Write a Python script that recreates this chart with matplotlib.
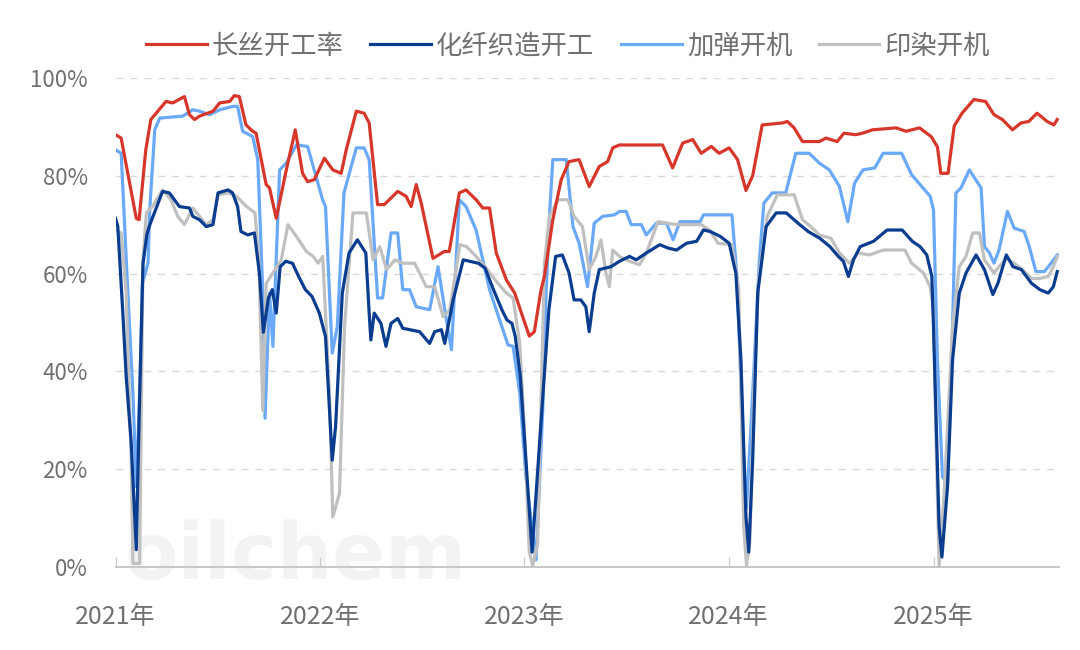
import matplotlib
matplotlib.use("Agg")
import matplotlib.pyplot as plt
import pandas as pd

plt.rcParams['font.family'] = ['Noto Sans CJK SC', 'DejaVu Sans']

# 长丝开工率
red_dates = ["2021-01-01", "2021-01-11", "2021-02-07", "2021-02-12", "2021-02-24", "2021-03-05",
             "2021-04-01", "2021-04-13", "2021-05-04", "2021-05-13", "2021-05-22", "2021-05-31",
             "2021-06-24", "2021-07-06", "2021-07-24", "2021-08-01", "2021-08-10", "2021-08-22",
             "2021-09-03", "2021-09-09", "2021-09-27", "2021-10-03", "2021-10-15", "2021-11-02",
             "2021-11-18", "2021-12-01", "2021-12-10", "2021-12-22", "2022-01-09", "2022-01-24",
             "2022-02-08", "2022-02-17", "2022-03-07", "2022-03-21", "2022-03-30", "2022-04-14",
             "2022-04-26", "2022-05-20", "2022-06-04", "2022-06-13", "2022-06-22", "2022-07-01",
             "2022-07-22", "2022-08-11", "2022-08-20", "2022-09-07", "2022-09-19", "2022-10-07",
             "2022-10-19", "2022-10-31", "2022-11-12", "2022-11-30", "2022-12-15", "2022-12-27",
             "2023-01-10", "2023-01-19", "2023-01-31", "2023-02-06", "2023-02-21", "2023-03-08",
             "2023-03-22", "2023-04-09", "2023-04-27", "2023-05-15", "2023-05-30", "2023-06-08",
             "2023-06-20", "2023-09-05", "2023-09-23", "2023-10-11", "2023-10-29", "2023-11-13",
             "2023-12-01", "2023-12-15", "2024-01-02", "2024-01-17", "2024-02-01", "2024-02-13",
             "2024-03-01", "2024-04-06", "2024-04-15", "2024-04-27", "2024-05-12", "2024-06-11",
             "2024-06-23", "2024-07-13", "2024-07-25", "2024-08-15", "2024-08-27", "2024-09-14",
             "2024-10-26", "2024-11-13", "2024-12-07", "2024-12-28", "2025-01-08", "2025-01-14",
             "2025-01-27", "2025-02-07", "2025-02-21", "2025-03-14", "2025-04-04", "2025-04-19",
             "2025-05-04", "2025-05-22", "2025-06-06", "2025-06-20", "2025-07-05", "2025-07-23",
             "2025-08-04", "2025-08-10"]
red_vals = [88.4, 87.7, 71.3, 71.0, 85.3, 91.5,
            95.2, 94.9, 96.2, 92.5, 91.5, 92.2,
            93.2, 94.9, 95.2, 96.4, 96.2, 90.4,
            89.1, 88.7, 78.2, 77.5, 71.3, 81.2,
            89.4, 80.5, 78.8, 79.2, 83.6, 81.2,
            80.5, 85.3, 93.2, 92.8, 90.8, 74.1,
            74.1, 76.8, 75.8, 73.7, 78.2, 74.4,
            63.1, 64.5, 64.5, 76.5, 77.1, 75.1,
            73.4, 73.4, 64.2, 58.7, 56.0, 51.9,
            47.2, 48.1, 56.7, 59.4, 71.0, 79.2,
            82.9, 83.3, 77.8, 81.9, 82.9, 85.7,
            86.3, 86.3, 81.6, 86.7, 87.4, 84.6,
            86.0, 84.6, 85.7, 83.3, 77.0, 80.0,
            90.4, 90.8, 91.1, 89.8, 87.0, 87.0,
            87.7, 87.0, 88.7, 88.4, 88.7, 89.4,
            89.8, 89.1, 89.8, 88.0, 85.9, 80.5,
            80.5, 90.2, 92.8, 95.6, 95.2, 92.5,
            91.5, 89.4, 90.8, 91.1, 92.8, 91.1,
            90.4, 91.5]

# 化纤织造开工
navy_dates = ["2021-01-01", "2021-01-05", "2021-01-14", "2021-01-20", "2021-01-29", "2021-02-07",
              "2021-02-12", "2021-02-19", "2021-02-26", "2021-03-02", "2021-03-26", "2021-04-07",
              "2021-04-25", "2021-05-13", "2021-05-19", "2021-05-31", "2021-06-12", "2021-06-24",
              "2021-07-03", "2021-07-21", "2021-07-29", "2021-08-07", "2021-08-13", "2021-08-25",
              "2021-09-06", "2021-09-15", "2021-09-22", "2021-10-01", "2021-10-08", "2021-10-15",
              "2021-10-22", "2021-11-01", "2021-11-13", "2021-11-24", "2021-12-06", "2021-12-18",
              "2021-12-31", "2022-01-11", "2022-01-23", "2022-01-29", "2022-02-10", "2022-02-22",
              "2022-03-09", "2022-03-24", "2022-03-30", "2022-04-02", "2022-04-08", "2022-04-20",
              "2022-04-29", "2022-05-08", "2022-05-20", "2022-05-29", "2022-06-28", "2022-07-16",
              "2022-07-25", "2022-08-06", "2022-08-12", "2022-08-27", "2022-09-14", "2022-10-11",
              "2022-10-23", "2022-11-07", "2022-11-22", "2022-12-01", "2022-12-10", "2022-12-16",
              "2022-12-25", "2023-01-15", "2023-02-02", "2023-02-14", "2023-02-26", "2023-03-10",
              "2023-03-22", "2023-03-31", "2023-04-12", "2023-04-21", "2023-04-27", "2023-05-06",
              "2023-05-15", "2023-06-05", "2023-06-20", "2023-07-08", "2023-07-20", "2023-08-07",
              "2023-08-31", "2023-09-15", "2023-09-30", "2023-10-18", "2023-11-05", "2023-11-17",
              "2023-11-29", "2023-12-17", "2024-01-02", "2024-01-14", "2024-01-23", "2024-02-01",
              "2024-02-06", "2024-02-13", "2024-02-22", "2024-03-08", "2024-03-26", "2024-04-13",
              "2024-05-04", "2024-05-22", "2024-06-12", "2024-06-30", "2024-07-15", "2024-07-24",
              "2024-08-02", "2024-08-11", "2024-08-23", "2024-09-16", "2024-10-10", "2024-11-06",
              "2024-11-24", "2024-12-08", "2024-12-20", "2024-12-29", "2025-01-01", "2025-01-11",
              "2025-01-16", "2025-01-26", "2025-02-04", "2025-02-16", "2025-02-28", "2025-03-18",
              "2025-04-02", "2025-04-17", "2025-04-26", "2025-05-11", "2025-05-23", "2025-06-07",
              "2025-06-25", "2025-07-10", "2025-07-25", "2025-08-03", "2025-08-10"]
navy_vals = [71.3, 69.6, 51.9, 38.9, 25.3, 3.5,
             30.0, 62.0, 68.0, 69.6, 76.8, 76.5,
             73.7, 73.4, 71.7, 71.0, 69.6, 70.0,
             76.5, 77.1, 76.5, 73.7, 68.6, 67.9,
             68.3, 60.0, 48.0, 55.0, 56.7, 51.9,
             61.4, 62.5, 62.1, 59.4, 56.7, 55.3,
             51.9, 47.1, 21.8, 28.7, 56.0, 64.2,
             66.9, 64.2, 51.9, 46.4, 51.9, 49.8,
             45.1, 49.8, 50.8, 48.8, 48.1, 45.7,
             48.1, 48.5, 45.7, 54.6, 62.8, 62.1,
             61.1, 56.7, 52.6, 50.5, 49.8, 47.1,
             38.9, 3.0, 33.0, 52.6, 63.5, 63.8,
             60.1, 54.6, 54.6, 53.2, 48.1, 56.0,
             60.8, 61.4, 62.5, 63.5, 62.8, 64.2,
             65.9, 65.2, 64.8, 66.2, 66.6, 68.9,
             68.6, 67.6, 66.2, 60.0, 42.3, 10.2,
             3.0, 21.8, 56.0, 69.6, 72.4, 72.4,
             70.3, 68.6, 67.2, 65.5, 63.5, 62.5,
             59.4, 62.8, 65.5, 66.6, 68.9, 68.9,
             66.6, 65.5, 63.8, 59.4, 49.0, 8.2,
             2.0, 16.4, 42.3, 56.0, 60.1, 63.8,
             60.8, 55.7, 58.0, 63.8, 61.4, 60.8,
             58.0, 56.7, 56.0, 57.3, 60.4]

# 加弹开机
sky_dates = ["2021-01-01", "2021-01-11", "2021-01-23", "2021-02-01", "2021-02-07", "2021-02-13",
             "2021-02-18", "2021-02-28", "2021-03-03", "2021-03-12", "2021-03-21", "2021-05-01",
             "2021-05-19", "2021-05-31", "2021-06-18", "2021-07-06", "2021-07-30", "2021-08-07",
             "2021-08-16", "2021-09-03", "2021-09-12", "2021-09-21", "2021-09-25", "2021-10-03",
             "2021-10-09", "2021-10-21", "2021-11-02", "2021-11-20", "2021-12-10", "2021-12-25",
             "2022-01-06", "2022-01-11", "2022-01-23", "2022-02-01", "2022-02-13", "2022-03-07",
             "2022-03-21", "2022-03-30", "2022-04-14", "2022-04-23", "2022-05-08", "2022-05-20",
             "2022-05-29", "2022-06-10", "2022-06-22", "2022-07-16", "2022-07-31", "2022-08-15",
             "2022-08-24", "2022-09-07", "2022-09-19", "2022-10-07", "2022-10-31", "2022-11-18",
             "2022-12-03", "2022-12-12", "2022-12-24", "2023-01-04", "2023-01-22", "2023-02-03",
             "2023-02-09", "2023-02-15", "2023-02-21", "2023-03-17", "2023-03-29", "2023-04-09",
             "2023-04-24", "2023-05-06", "2023-05-21", "2023-06-11", "2023-06-20", "2023-07-02",
             "2023-07-11", "2023-07-29", "2023-08-07", "2023-08-25", "2023-09-12", "2023-09-24",
             "2023-10-06", "2023-11-11", "2023-11-17", "2024-01-07", "2024-01-16", "2024-01-28",
             "2024-02-02", "2024-02-13", "2024-02-25", "2024-03-04", "2024-03-19", "2024-04-12",
             "2024-04-30", "2024-05-24", "2024-06-11", "2024-06-29", "2024-07-17", "2024-08-01",
             "2024-08-13", "2024-08-28", "2024-09-18", "2024-10-03", "2024-11-05", "2024-11-23",
             "2024-12-08", "2024-12-26", "2025-01-01", "2025-01-08", "2025-01-17", "2025-01-26",
             "2025-02-04", "2025-02-10", "2025-02-19", "2025-03-06", "2025-03-27", "2025-04-02",
             "2025-04-11", "2025-04-19", "2025-04-28", "2025-05-13", "2025-05-25", "2025-06-12",
             "2025-06-21", "2025-07-03", "2025-07-18", "2025-07-30", "2025-08-10"]
sky_vals = [85.3, 84.6, 56.0, 35.5, 16.4, 35.0,
            58.0, 62.1, 73.0, 89.4, 91.8, 92.2,
            93.5, 93.2, 92.5, 93.5, 94.2, 94.2,
            89.1, 88.0, 83.3, 56.0, 30.4, 56.0,
            45.1, 81.2, 82.6, 86.3, 86.0, 79.9,
            75.0, 73.7, 43.7, 49.1, 76.5, 85.7,
            85.7, 83.3, 55.0, 55.0, 68.3, 68.3,
            56.7, 56.7, 53.2, 52.6, 61.4, 50.5,
            44.4, 75.1, 73.7, 68.9, 56.7, 50.5,
            45.4, 45.1, 35.5, 18.4, 1.4, 32.0,
            56.0, 71.7, 83.3, 83.3, 69.6, 66.2,
            57.3, 70.3, 71.7, 72.0, 72.7, 72.7,
            70.0, 70.0, 67.9, 70.3, 70.3, 66.9,
            70.6, 70.6, 72.0, 72.0, 59.4, 21.8,
            12.0, 35.5, 62.8, 74.4, 76.5, 76.5,
            84.6, 84.6, 82.6, 81.2, 77.8, 70.6,
            78.5, 81.2, 81.6, 84.6, 84.6, 80.2,
            78.2, 75.8, 73.0, 42.3, 18.4, 17.0,
            49.1, 76.5, 77.5, 81.2, 77.5, 65.5,
            64.2, 62.1, 64.8, 72.7, 69.3, 68.6,
            65.5, 60.4, 60.4, 62.1, 63.8]

# 印染开机
grey_dates = ["2021-01-01", "2021-01-11", "2021-01-20", "2021-01-29", "2021-02-01", "2021-02-13",
              "2021-02-19", "2021-02-25", "2021-03-08", "2021-03-26", "2021-04-10", "2021-04-22",
              "2021-05-04", "2021-05-19", "2021-05-31", "2021-06-12", "2021-06-24", "2021-07-03",
              "2021-07-21", "2021-08-05", "2021-08-23", "2021-09-07", "2021-09-14", "2021-09-21",
              "2021-09-27", "2021-10-09", "2021-10-24", "2021-11-05", "2021-11-20", "2021-12-08",
              "2021-12-20", "2021-12-29", "2022-01-06", "2022-01-18", "2022-01-24", "2022-02-05",
              "2022-02-14", "2022-03-01", "2022-03-25", "2022-04-06", "2022-04-18", "2022-04-30",
              "2022-05-15", "2022-05-29", "2022-06-19", "2022-06-28", "2022-07-10", "2022-07-25",
              "2022-08-09", "2022-08-21", "2022-09-08", "2022-09-20", "2022-10-07", "2022-10-25",
              "2022-11-12", "2022-11-30", "2022-12-12", "2022-12-24", "2023-01-01", "2023-01-10",
              "2023-01-16", "2023-01-25", "2023-02-06", "2023-02-15", "2023-03-02", "2023-03-20",
              "2023-03-31", "2023-04-15", "2023-04-27", "2023-05-09", "2023-05-18", "2023-05-27",
              "2023-06-02", "2023-06-08", "2023-06-20", "2023-07-08", "2023-07-26", "2023-08-07",
              "2023-08-28", "2023-09-30", "2023-11-13", "2023-11-28", "2023-12-13", "2024-01-07",
              "2024-01-19", "2024-01-28", "2024-02-02", "2024-02-08", "2024-02-15", "2024-02-24",
              "2024-03-10", "2024-03-28", "2024-04-27", "2024-05-12", "2024-05-27", "2024-06-11",
              "2024-07-02", "2024-07-17", "2024-08-04", "2024-08-19", "2024-09-09", "2024-10-03",
              "2024-11-11", "2024-11-23", "2024-12-14", "2024-12-26", "2025-01-01", "2025-01-05",
              "2025-01-11", "2025-01-20", "2025-02-04", "2025-02-16", "2025-02-28", "2025-03-12",
              "2025-03-24", "2025-04-02", "2025-04-19", "2025-04-28", "2025-05-11", "2025-05-25",
              "2025-06-09", "2025-06-25", "2025-07-10", "2025-07-25", "2025-08-03", "2025-08-10"]
grey_vals = [68.9, 68.3, 56.0, 21.8, 0.7, 0.7,
             62.8, 72.4, 73.7, 77.1, 75.1, 71.7,
             70.0, 73.4, 71.7, 70.0, 71.0, 76.1,
             76.5, 75.8, 73.7, 72.4, 62.8, 32.0,
             58.0, 60.1, 62.8, 70.0, 67.6, 64.5,
             63.5, 62.1, 63.5, 35.5, 10.2, 15.0,
             49.1, 72.4, 72.4, 62.8, 65.5, 60.8,
             62.8, 62.1, 62.1, 60.1, 57.3, 57.3,
             51.2, 52.6, 65.9, 65.5, 63.5, 61.1,
             58.4, 56.0, 55.0, 45.7, 28.7, 3.0,
             0.3, 4.8, 62.0, 71.7, 75.1, 75.1,
             71.7, 69.6, 60.8, 63.5, 66.9, 60.1,
             57.3, 64.8, 63.5, 62.5, 61.8, 64.2,
             70.6, 70.0, 70.0, 68.9, 66.2, 65.9,
             57.0, 8.2, 0.3, 5.0, 35.5, 59.4,
             71.7, 76.1, 76.1, 71.0, 69.6, 67.9,
             67.2, 64.2, 62.1, 64.2, 63.8, 64.8,
             64.8, 62.1, 60.1, 57.3, 52.6, 28.7,
             0.3, 15.0, 49.1, 61.4, 63.5, 68.3,
             68.3, 62.8, 60.1, 61.4, 63.1, 62.1,
             60.8, 59.0, 59.0, 59.4, 61.4, 63.5]

series_names = ["长丝开工率", "化纤织造开工", "加弹开机", "印染开机"]
series_colors = ["#d7372a", "#0a3d8f", "#6aa9f7", "#c0c0c0"]
year_ticks = ["2021-01-01", "2022-01-01", "2023-01-01", "2024-01-01", "2025-01-01"]
year_labels = ["2021年", "2022年", "2023年", "2024年", "2025年"]
y_ticks = [0, 20, 40, 60, 80, 100]

fig = plt.figure(figsize=(10.8, 6.5), dpi=100)
ax = fig.add_axes([0.107, 0.128, 0.874, 0.752])

# faint watermark, behind the lines, kept clear of the tick labels
ax.text(0.115, 0.085, "oilchem", transform=fig.transFigure, fontsize=56, color="#f3f3f3",
        fontweight="bold", zorder=0, va="bottom", ha="left", clip_on=False,
        family=["DejaVu Sans"])

series = [(red_dates, red_vals), (navy_dates, navy_vals), (sky_dates, sky_vals), (grey_dates, grey_vals)]
z = [5, 4, 3, 3.5]
handles = []
for k, (d, v) in enumerate(series):
    ln, = ax.plot(pd.to_datetime(d), v, color=series_colors[k], lw=2.3,
                  solid_joinstyle='round', zorder=z[k])
    handles.append(ln)

ax.set_ylim(0, 100)
ax.set_xlim(pd.Timestamp("2021-01-01"), pd.Timestamp("2025-08-14"))
ax.set_yticks(y_ticks)
ax.set_yticklabels([f"{t}%" for t in y_ticks])
ax.set_xticks(pd.to_datetime(year_ticks))
ax.set_xticklabels(year_labels)

for t in y_ticks[1:]:
    ax.axhline(t, color="#d9d9d9", lw=1, ls=(0, (5, 5)), zorder=0.5)

for s in ["top", "right", "left"]:
    ax.spines[s].set_visible(False)
ax.spines["bottom"].set_color("#c8c8c8")
ax.spines["bottom"].set_linewidth(1.5)
ax.tick_params(axis="y", length=0, labelsize=16, labelcolor="#707070", pad=20)
ax.tick_params(axis="x", direction="in", length=7, color="#c8c8c8", labelsize=18,
               labelcolor="#707070", pad=27)

fig.legend(handles, series_names, loc="center",
           bbox_to_anchor=(0.526, 0.929), ncol=4, frameon=False, fontsize=19,
           handlelength=2.3, handletextpad=0.2, columnspacing=1.0, labelcolor="#707070")

fig.savefig("out.png", dpi=100)
